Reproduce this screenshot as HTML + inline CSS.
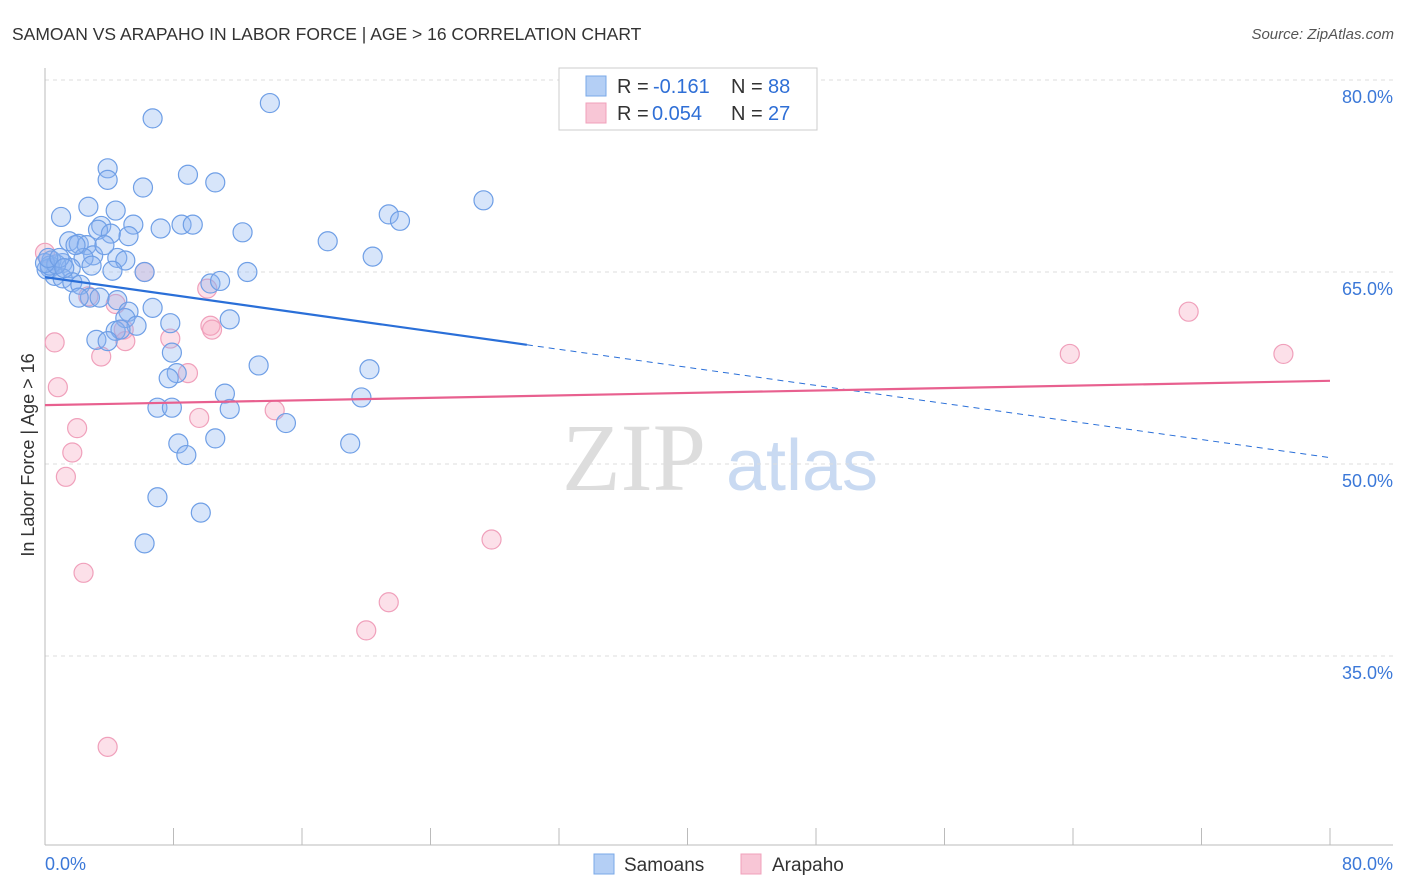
<!DOCTYPE html>
<html><head><meta charset="utf-8"><style>
body{margin:0;background:#fff;font-family:"Liberation Sans",sans-serif}
svg{display:block}
</style></head><body>
<svg id="chart" width="1406" height="892" viewBox="0 0 1406 892">
<text x="12" y="40" font-size="17.5" fill="#333">SAMOAN VS ARAPAHO IN LABOR FORCE | AGE &gt; 16 CORRELATION CHART</text>
<text x="1394" y="39" font-size="15" fill="#555" font-style="italic" text-anchor="end">Source: ZipAtlas.com</text>
<g><text x="634" y="490" font-size="96" fill="#ddd" font-family="Liberation Serif,serif" text-anchor="middle">ZIP</text><text x="802" y="490" font-size="72" fill="#c9daf2" text-anchor="middle">atlas</text></g>
<g id="grid"></g>
<g id="axes"></g>
<g id="marks"></g>
<text transform="translate(34,455) rotate(-90)" font-size="18" fill="#333" text-anchor="middle">In Labor Force | Age &gt; 16</text>
<g>
<rect x="559" y="68" width="258" height="62" fill="#fff" stroke="#ccc"/>
<rect x="586" y="76" width="20" height="20" fill="#b4cff5" stroke="#7aa8e8"/>
<rect x="586" y="103" width="20" height="20" fill="#f8c6d6" stroke="#f0a0bb"/>
<g font-size="20" fill="#333">
<text x="617" y="93">R =</text><text x="653" y="93" fill="#2f6fd6">-0.161</text><text x="731" y="93">N =</text><text x="768" y="93" fill="#2f6fd6">88</text>
<text x="617" y="120">R =</text><text x="652" y="120" fill="#2f6fd6">0.054</text><text x="731" y="120">N =</text><text x="768" y="120" fill="#2f6fd6">27</text>
</g>
</g>
<g>
<rect x="594" y="854" width="20" height="20" fill="#b4cff5" stroke="#7aa8e8"/>
<text x="624" y="871" font-size="19" fill="#333">Samoans</text>
<rect x="741" y="854" width="20" height="20" fill="#f8c6d6" stroke="#f0a0bb"/>
<text x="772" y="871" font-size="19" fill="#333">Arapaho</text>
</g>
</svg>
<script>
const blueX=[6.7,14.0,3.9,3.9,6.1,8.9,10.6,27.3,21.4,22.1,1.0,2.7,4.4,3.5,5.5,7.2,8.5,9.2,12.3,17.6,20.4,1.5,2.1,2.6,3.3,4.1,5.2,4.5,5.0,3.0,2.4,1.1,0.4,0.3,0.6,1.6,2.9,4.2,6.2,12.6,10.3,10.9,1.1,1.7,2.2,2.8,2.1,3.4,4.5,6.7,5.2,5.0,5.7,4.4,4.7,7.8,11.5,3.2,3.9,7.9,13.3,20.2,8.2,7.7,11.2,19.7,7.0,7.9,11.5,15.0,19.0,8.3,8.8,10.6,7.0,9.7,6.2,0.1,0.3,0.7,0.0,0.2,0.9,1.2,1.9,3.7];
const blueY=[77.0,78.2,73.1,72.2,71.6,72.6,72.0,70.6,69.5,69.0,69.3,70.1,69.8,68.6,68.7,68.4,68.7,68.7,68.1,67.4,66.2,67.4,67.2,67.1,68.3,68.0,67.8,66.1,65.9,66.3,66.1,65.7,65.9,65.3,64.7,65.3,65.5,65.1,65.0,65.0,64.1,64.3,64.5,64.2,64.0,63.0,63.0,63.0,62.8,62.2,61.9,61.4,60.8,60.4,60.5,61.0,61.3,59.7,59.6,58.7,57.7,57.4,57.1,56.7,55.5,55.2,54.4,54.4,54.3,53.2,51.6,51.6,50.7,52.0,47.4,46.2,43.8,65.2,65.5,65.6,65.7,66.1,66.1,65.3,67.1,67.1];
const pinkX=[0.0,0.6,0.8,1.3,1.7,2.0,2.4,3.9,3.5,2.7,4.4,4.9,5.0,6.2,7.8,8.9,9.6,10.1,10.3,10.4,14.3,20.0,21.4,27.8,63.8,71.2,77.1];
const pinkY=[66.5,59.5,56.0,49.0,50.9,52.8,41.5,27.9,58.4,63.1,62.5,60.5,59.6,65.0,59.8,57.1,53.6,63.7,60.8,60.5,54.2,37.0,39.2,44.1,58.6,61.9,58.6];
const yTicks=[80,65,50,35];
const xTickLabels=["0.0%","80.0%"];
const blueTrend=[64.6,50.5], pinkTrend=[54.6,56.5];
const NS="http://www.w3.org/2000/svg";
const X=v=>45+v*(1285/80), Y=v=>80+(80-v)*12.8;
function mk(p,t,a){const e=document.createElementNS(NS,t);for(const k in a)e.setAttribute(k,a[k]);p.appendChild(e);return e;}
const grid=document.getElementById('grid'),axes=document.getElementById('axes'),marks=document.getElementById('marks');
yTicks.forEach(v=>{
 const l=mk(grid,'line',{x1:45,x2:1393,y1:Y(v),y2:Y(v),stroke:'#ddd','stroke-dasharray':'4,4'});
 
 
 const t=mk(axes,'text',{x:1393,y:Y(v)+23,'font-size':18,fill:'#3b78d8','text-anchor':'end'});
 t.textContent=v.toFixed(1)+'%';
 
 
});
mk(axes,'line',{x1:45,x2:45,y1:68,y2:845,stroke:'#bbb'});
mk(axes,'line',{x1:45,x2:1393,y1:845,y2:845,stroke:'#bbb'});
for(let i=1;i<=10;i++){const t=mk(axes,'line',{x1:X(i*8),x2:X(i*8),y1:828,y2:845,stroke:'#bbb'});
 
 }
[[0,xTickLabels[0],'start',45],[80,xTickLabels[1],'end',1393]].forEach(d=>{
 const t=mk(axes,'text',{x:d[3],y:870,'font-size':18,fill:'#3b78d8','text-anchor':d[2]});t.textContent=d[1];
 
 });
pinkX.forEach((x,i)=>{const c=mk(marks,'circle',{cx:X(x),cy:Y(pinkY[i]),r:9.5,fill:'rgba(245,165,192,0.35)',stroke:'#f0a0bb','stroke-width':1.2});
 
 });
blueX.forEach((x,i)=>{const c=mk(marks,'circle',{cx:X(x),cy:Y(blueY[i]),r:9.5,fill:'rgba(140,180,240,0.35)',stroke:'#6f9fe6','stroke-width':1.2});
 
 });
const bAt=x=>blueTrend[0]+(blueTrend[1]-blueTrend[0])*x/80;
let l=mk(marks,'line',{x1:X(0),y1:Y(bAt(0)),x2:X(30),y2:Y(bAt(30)),stroke:'#2a6fd8','stroke-width':2.2});


l=mk(marks,'line',{x1:X(30),y1:Y(bAt(30)),x2:X(80),y2:Y(bAt(80)),stroke:'#2a6fd8','stroke-width':1,'stroke-dasharray':'6,5'});


l=mk(marks,'line',{x1:X(0),y1:Y(pinkTrend[0]),x2:X(80),y2:Y(pinkTrend[1]),stroke:'#e8608f','stroke-width':2.2});


</script>
</body></html>
